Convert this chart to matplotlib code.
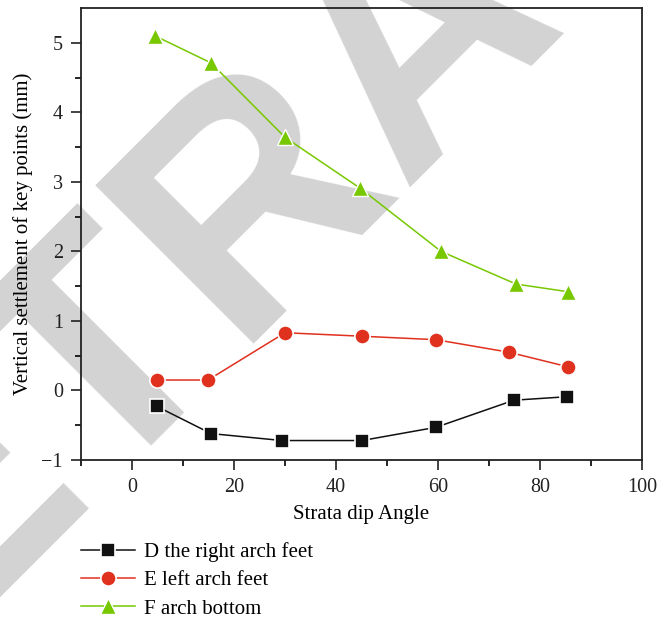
import matplotlib
matplotlib.use("Agg")
import matplotlib.pyplot as plt

# Data
x_d = [4.9, 15.5, 29.4, 45.1, 59.6, 74.9, 85.3]
y_d = [-0.23, -0.62, -0.72, -0.72, -0.53, -0.14, -0.09]
x_e = [4.9, 14.9, 30.0, 45.1, 59.6, 73.9, 85.5]
y_e = [0.15, 0.15, 0.83, 0.78, 0.73, 0.55, 0.34]
x_f = [4.5, 15.5, 30.0, 44.7, 60.6, 75.3, 85.5]
y_f = [5.10, 4.71, 3.64, 2.91, 2.00, 1.53, 1.42]
labels = ["D the right arch feet", "E left arch feet", "F arch bottom"]
xticks = [0, 20, 40, 60, 80, 100]
yticks = [-1, 0, 1, 2, 3, 4, 5]

plt.rcParams['font.family'] = ['Liberation Serif', 'DejaVu Serif']

W, H = 659, 622
fig = plt.figure(figsize=(W / 100, H / 100), dpi=100)

# watermark
fig.text(482 / W, 1 - 94 / H, "RETRACTED", fontsize=234, fontweight='bold',
         family='Liberation Sans', color='#d3d3d3', rotation=45,
         rotation_mode='anchor', ha='center', va='baseline', zorder=-1)

ax = fig.add_axes([81 / W, 1 - 460 / H, (642 - 81) / W, (460 - 8) / H])
ax.patch.set_alpha(0)

c_d, c_e, c_f = '#111111', '#e0301e', '#77c800'
ax.plot(x_d, y_d, color=c_d, lw=1.1, marker='s', ms=10, mfc=c_d, mec='white', mew=1.2, label=labels[0])
ax.plot(x_e, y_e, color=c_e, lw=1.1, marker='o', ms=11, mfc=c_e, mec='white', mew=1.2, label=labels[1])
ax.plot(x_f, y_f, color=c_f, lw=1.1, marker='^', ms=12, mfc=c_f, mec='white', mew=1.0, label=labels[2])

ax.set_xlim(-10, 100)
ax.set_ylim(-1, 5.5)
ax.set_xticks(xticks)
ax.set_yticks(yticks)
ax.set_xticks([-10, 10, 30, 50, 70, 90], minor=True)
ax.set_yticks([-0.5, 0.5, 1.5, 2.5, 3.5, 4.5], minor=True)
ax.set_yticklabels(["\u22121"] + [str(v) for v in yticks[1:]])
ax.tick_params(which='major', direction='out', length=7, width=1.2, labelsize=14.5,
               colors='#222222', pad=6)
ax.tick_params(which='minor', direction='out', length=4, width=1.2)
for s in ax.spines.values():
    s.set_linewidth(1.3)
    s.set_color('#222222')
ax.set_xlabel("Strata dip Angle", fontsize=15, labelpad=6)
ax.set_ylabel("Vertical settlement of key points (mm)", fontsize=15, labelpad=6)

handles, labs = ax.get_legend_handles_labels()
fig.legend(handles, labs, loc='upper left', bbox_to_anchor=(81 / W, 1 - 542 / H),
           frameon=False, fontsize=15, handlelength=2.6, handletextpad=0.4,
           labelspacing=0.42, borderaxespad=0, borderpad=0)

fig.savefig("out.png", dpi=100)
